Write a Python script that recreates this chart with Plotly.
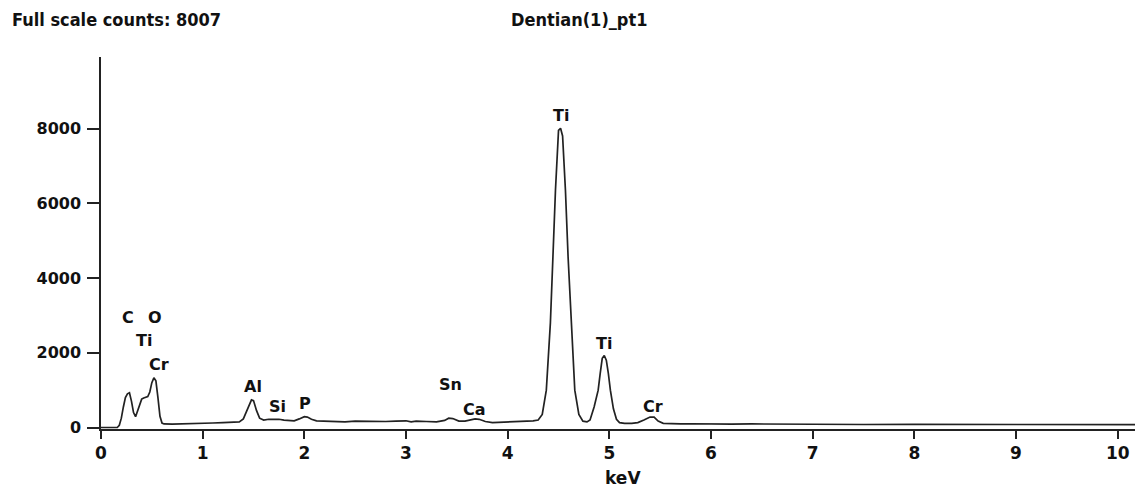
import plotly.graph_objects as go

# ---- data ----
energy_kev = [
    0.00, 0.10, 0.16, 0.18, 0.20, 0.22, 0.24, 0.26, 0.28, 0.30, 0.32, 0.34, 0.36, 0.38,
    0.40, 0.42, 0.44, 0.46, 0.48, 0.50, 0.52, 0.54, 0.56, 0.58, 0.60, 0.62, 0.70, 0.80,
    0.90, 1.00, 1.10, 1.20, 1.30, 1.36, 1.40, 1.44, 1.48, 1.50, 1.53, 1.56, 1.60, 1.65,
    1.70, 1.75, 1.80, 1.85, 1.90, 1.95, 2.00, 2.03, 2.07, 2.12, 2.20, 2.30, 2.40, 2.50,
    2.60, 2.70, 2.80, 2.90, 3.00, 3.05, 3.10, 3.20, 3.30, 3.38, 3.42, 3.46, 3.52, 3.58,
    3.64, 3.68, 3.72, 3.78, 3.85, 3.95, 4.05, 4.15, 4.25, 4.30, 4.34, 4.38, 4.42, 4.445,
    4.47, 4.50, 4.52, 4.54, 4.568, 4.594, 4.627, 4.66, 4.70, 4.74, 4.78, 4.81, 4.85, 4.89,
    4.91, 4.93, 4.95, 4.97, 4.99, 5.01, 5.04, 5.07, 5.10, 5.15, 5.22, 5.28, 5.34, 5.40,
    5.44, 5.48, 5.53, 5.60, 5.70, 5.80, 5.90, 6.00, 6.20, 6.40, 6.60, 6.80, 7.00, 7.50,
    8.00, 8.50, 9.00, 9.50, 10.00, 10.20,
]
counts = [
    0, 0, 0, 60, 250, 550, 800, 900, 930, 700, 400, 290, 450, 640,
    760, 790, 800, 830, 950, 1200, 1330, 1250, 800, 300, 120, 95, 90, 95,
    90, 110, 120, 130, 140, 150, 230, 500, 740, 720, 450, 250, 200, 220,
    230, 220, 200, 190, 180, 230, 290, 280, 220, 180, 170, 165, 150, 170,
    165, 150, 160, 170, 180, 150, 170, 160, 150, 190, 250, 240, 170, 170,
    210, 230, 220, 160, 130, 140, 150, 160, 180, 200, 350, 1000, 2800, 4570,
    6350, 7950, 8007, 7800, 6350, 4570, 2800, 1000, 350, 170, 150, 200, 550, 1000,
    1450, 1850, 1926, 1800, 1450, 1000, 500, 220, 130, 110, 110, 130, 200, 280,
    280, 170, 110, 100, 95, 100, 95, 100, 90, 95, 90, 85, 85, 80,
    85, 80, 80, 80, 75, 75,
]

element_labels = ["C", "O", "Ti", "Cr", "Al", "Si", "P", "Sn", "Ca", "Ti", "Ti", "Cr"]
label_energy = [0.266, 0.532, 0.424, 0.571, 1.497, 1.734, 2.01, 3.438, 3.675, 4.522, 4.946, 5.429]
label_height = [2930, 2930, 2341, 1699, 1110, 575, 655, 1164, 495, 8361, 2261, 575]

x_ticks = [0, 1, 2, 3, 4, 5, 6, 7, 8, 9, 10]
y_ticks = [0, 2000, 4000, 6000, 8000]

full_scale = 8007
sample_name = "Dentian(1)_pt1"
x_title = "keV"

FONT = "DejaVu Sans"
TFONT = "DejaVu Sans Condensed"
W, H = 1135, 494
ML, MR, MT, MB = 101, 0, 57, 65
PW, PH = W - ML - MR, H - MT - MB


def px_to_paper(px, py):
    return (px - ML) / PW, 1 - (py - MT) / PH


fig = go.Figure()
fig.add_trace(go.Scatter(
    x=energy_kev, y=counts, mode="lines",
    line=dict(color="#222222", width=1.7),
    hoverinfo="skip", showlegend=False,
))

for lab, ex, ey in zip(element_labels, label_energy, label_height):
    fig.add_annotation(
        x=ex, y=ey, xref="x", yref="y", text=lab, showarrow=False,
        font=dict(family=FONT, size=16, color="#111111", weight="bold"),
        xanchor="center", yanchor="middle",
    )

tx, ty = px_to_paper(10, 19)
fig.add_annotation(
    x=tx, y=ty, xref="paper", yref="paper",
    text=f"Full scale counts: {full_scale}", showarrow=False,
    font=dict(family=TFONT, size=18, color="#111111", weight="bold"),
    xanchor="left", yanchor="middle",
)
sx, sy = px_to_paper(579, 19)
fig.add_annotation(
    x=sx, y=sy, xref="paper", yref="paper",
    text=sample_name, showarrow=False,
    font=dict(family=TFONT, size=18, color="#111111", weight="bold"),
    xanchor="center", yanchor="middle",
)
kx, ky = px_to_paper(623, 478)
fig.add_annotation(
    x=kx, y=ky, xref="paper", yref="paper",
    text=x_title, showarrow=False,
    font=dict(family=FONT, size=17, color="#111111", weight="bold"),
    xanchor="center", yanchor="middle",
)

fig.update_layout(
    width=W, height=H,
    margin=dict(l=ML, r=MR, t=MT, b=MB),
    paper_bgcolor="white", plot_bgcolor="white",
    xaxis=dict(
        range=[0, 10.17], tickvals=x_ticks, ticktext=[str(v) for v in x_ticks],
        ticks="outside", ticklen=8, tickwidth=1.5, tickcolor="#222222",
        showline=True, linecolor="#222222", linewidth=2,
        showgrid=False, zeroline=False,
        tickfont=dict(family=FONT, size=17, color="#111111", weight="bold"),
    ),
    yaxis=dict(
        range=[-40, 9913], tickvals=y_ticks, ticktext=[str(v) for v in y_ticks],
        ticks="outside", ticklen=12, tickwidth=1.5, tickcolor="#222222",
        ticklabelstandoff=3,
        showline=True, linecolor="#222222", linewidth=1.5,
        showgrid=False, zeroline=False,
        tickfont=dict(family=FONT, size=16, color="#111111", weight="bold"),
    ),
)

fig.write_html("out.html")
